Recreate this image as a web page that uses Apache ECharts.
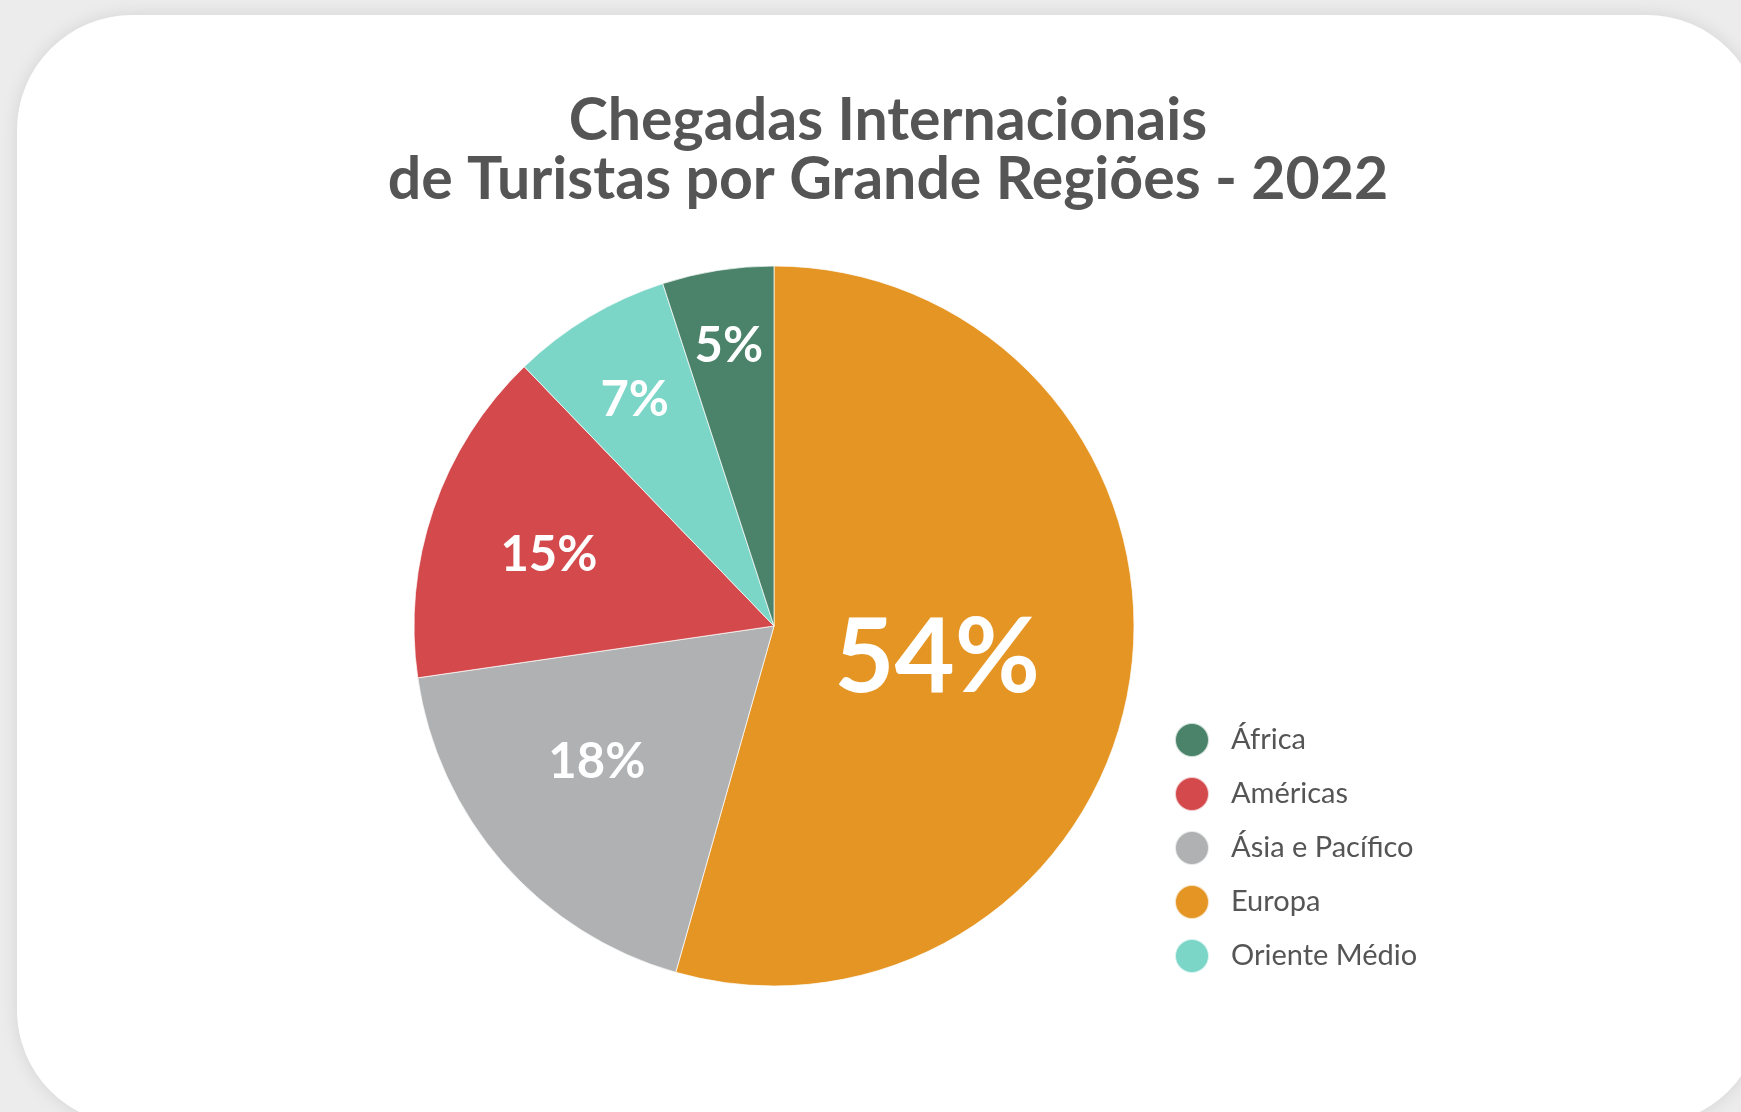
<!DOCTYPE html>
<html>
<head>
<meta charset="utf-8">
<script src="https://cdn.jsdelivr.net/npm/echarts@6/dist/echarts.min.js"></script>
<style>
    html, body {
        margin: 0;
        width: 100%;
        height: 100%;
        background: #ececec;
        overflow: hidden;
    }
    .card {
        position: absolute;
        left: 17px;
        top: 15px;
        width: 1745px;
        height: 1110px;
        background: #fff;
        border-radius: 115px;
        box-shadow: 0 0 18px rgba(0, 0, 0, 0.10);
    }
    #main {
        position: absolute;
        left: 0;
        top: 0;
        width: 1741px;
        height: 1112px;
    }
</style>
</head>
<body>
<div class="card"></div>
<div id="main"></div>
<script>
    // dados (ordem do gráfico, sentido horário a partir do topo)
    var regioes = ['Europa', 'Ásia e Pacífico', 'Américas', 'Oriente Médio', 'África'];
    var percentuais = [54.4, 18.3, 15.1, 7.2, 5.0];
    // ordem da legenda
    var legenda = ['África', 'Américas', 'Ásia e Pacífico', 'Europa', 'Oriente Médio'];

    var cores = {
        'Europa': '#e59523',
        'Ásia e Pacífico': '#b0b1b2',
        'Américas': '#d44a4c',
        'Oriente Médio': '#7bd6c8',
        'África': '#4a836a'
    };
    // rótulo: [distância ao centro (fração do raio), giro em graus]
    var posRotulo = {
        'Europa': [0.45, 0],
        'Ásia e Pacífico': [0.60, 5],
        'Américas': [0.65, 0],
        'Oriente Médio': [0.74, 0],
        'África': [0.79, 0]
    };

    var CX = 774, CY = 626, R = 360;
    var FONTE = 'Lato, "Open Sans", sans-serif';

    var myChart = echarts.init(document.getElementById('main'));

    var dados = regioes.map(function (nome, i) {
        var grande = nome === 'Europa';
        return {
            name: nome,
            value: percentuais[i],
            itemStyle: {color: cores[nome]},
            label: {
                fontSize: grande ? 104 : 49
            }
        };
    });

    var option = {
        animation: false,
        title: {
            text: 'Chegadas Internacionais\nde Turistas por Grande Regiões - 2022',
            left: 883,
            top: 86,
            textAlign: 'center',
            textStyle: {
                fontFamily: FONTE,
                fontWeight: 'bold',
                fontSize: 59,
                lineHeight: 59,
                color: '#555555'
            }
        },
        legend: {
            orient: 'vertical',
            left: 1169,
            top: 717,
            data: legenda,
            icon: 'circle',
            itemWidth: 34,
            itemHeight: 34,
            itemGap: 18,
            textStyle: {
                fontFamily: FONTE,
                fontWeight: 'normal',
                fontSize: 29,
                lineHeight: 34,
                color: '#555555',
                padding: [0, 0, 0, 17]
            }
        },
        series: [
            {
                type: 'pie',
                center: [CX, CY],
                radius: [0, R],
                startAngle: 90,
                clockwise: true,
                avoidLabelOverlap: false,
                itemStyle: {
                    borderColor: 'rgba(255,255,255,0.7)',
                    borderWidth: 1
                },
                label: {
                    show: true,
                    position: 'inside',
                    color: '#ffffff',
                    fontFamily: FONTE,
                    fontWeight: 'bold',
                    formatter: function (p) {
                        return Math.round(p.value) + '%';
                    }
                },
                labelLayout: function (p) {
                    var nome = regioes[p.dataIndex];
                    var vx = p.labelRect.x + p.labelRect.width / 2 - CX;
                    var vy = p.labelRect.y + p.labelRect.height / 2 - CY;
                    var k = posRotulo[nome][0] / 0.5;
                    var a = posRotulo[nome][1] * Math.PI / 180;
                    var rx = vx * Math.cos(a) - vy * Math.sin(a);
                    var ry = vx * Math.sin(a) + vy * Math.cos(a);
                    var desce = nome === 'Europa' ? 10 : 6;
                    return {
                        x: CX + rx * k,
                        y: CY + ry * k + desce,
                        align: 'center',
                        verticalAlign: 'middle'
                    };
                },
                data: dados
            }
        ]
    };
    myChart.setOption(option);
</script>
</body>
</html>
